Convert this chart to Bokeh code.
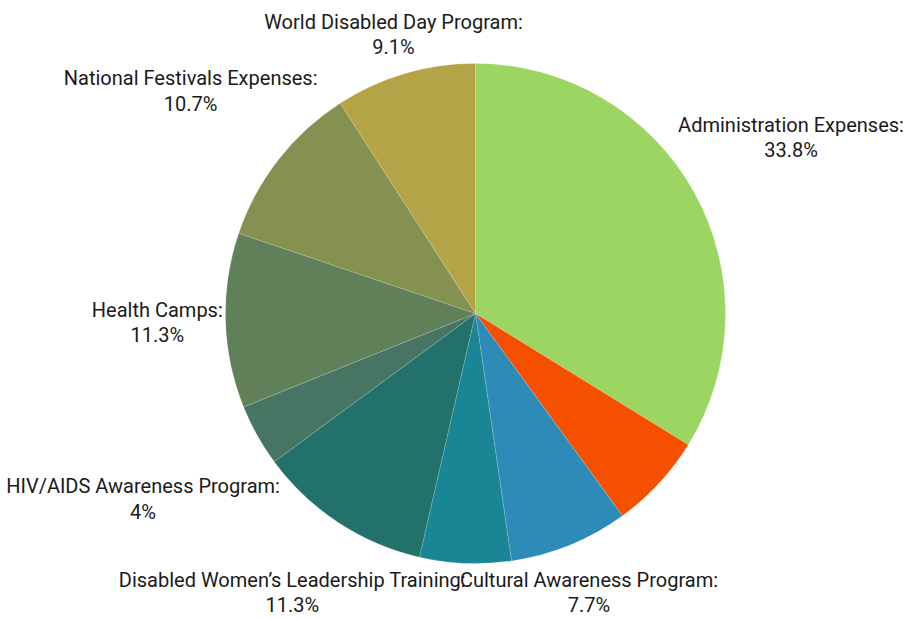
import math
from bokeh.plotting import figure
from bokeh.models import ColumnDataSource, Range1d
from bokeh.core.properties import value
from bokeh.embed import file_html
from bokeh.resources import INLINE

# ---- data ----
categories = ["Administration Expenses", "Other Expenses A", "Cultural Awareness Program",
              "Other Expenses B", "Disabled Women\u2019s Leadership Training",
              "HIV/AIDS Awareness Program", "Health Camps",
              "National Festivals Expenses", "World Disabled Day Program"]
values = [33.8, 6.2, 7.7, 5.9, 11.3, 4.0, 11.3, 10.7, 9.1]
show_label = [True, False, True, False, True, True, True, True, True]
colors = ["#9dd563", "#f54f00", "#2e8bb8", "#1a8594", "#23716b",
          "#467563", "#5f8058", "#849150", "#b5a348"]

# ---- layout ----
W, H = 908, 619
cx, cy = 475.0, H - 313.0
R = 250.0
FONT_PX = 20
LINE_H = 1.06

# Roboto advance widths (units/2048), approximate
ADV = {
    'A': 1336, 'C': 1305, 'D': 1310, 'E': 1141, 'F': 1119, 'H': 1427, 'I': 561,
    'L': 1103, 'M': 1749, 'N': 1427, 'P': 1292, 'R': 1257, 'S': 1216, 'T': 1224,
    'V': 1304, 'W': 1800,
    'a': 1087, 'b': 1120, 'c': 1045, 'd': 1126, 'e': 1058, 'f': 693, 'g': 1120,
    'h': 1100, 'i': 497, 'j': 489, 'k': 1014, 'l': 497, 'm': 1751, 'n': 1104,
    'o': 1140, 'p': 1120, 'q': 1120, 'r': 693, 's': 1056, 't': 669, 'u': 1101,
    'v': 968, 'w': 1506, 'x': 990, 'y': 945, 'z': 990,
    '.': 527, '%': 1465, ':': 484, ' ': 507, '/': 824, '\u2019': 400,
}


def text_width(s):
    return sum(ADV.get(ch, 1150 if ch.isdigit() else 1120) for ch in s) / 2048.0 * FONT_PX


total = sum(values)
starts, ends, lx, ly, ltext = [], [], [], [], []
acc = 0.0
for cat, v, show in zip(categories, values, show_label):
    t0 = acc / total * 2 * math.pi
    acc += v
    t1 = acc / total * 2 * math.pi
    starts.append(math.pi / 2 - t0)
    ends.append(math.pi / 2 - t1)
    if show:
        line1 = cat + ":"
        line2 = f"{v:g}%"
        hw = max(text_width(line1), text_width(line2)) / 2.0
        hh = 25.0
        mid = (t0 + t1) / 2.0
        ux, uy = math.sin(mid), math.cos(mid)
        target = R + 4.0
        lo, hi = 0.0, 1000.0
        for _ in range(60):
            d = (lo + hi) / 2.0
            nx = max(abs(d * ux) - hw, 0.0)
            ny = max(abs(d * uy) - hh, 0.0)
            if math.hypot(nx, ny) < target:
                lo = d
            else:
                hi = d
        d = (lo + hi) / 2.0
        lx.append(cx + d * ux)
        ly.append(cy + d * uy)
        ltext.append(line1 + "\n" + line2)

src = ColumnDataSource(dict(start=starts, end=ends, color=colors, cat=categories, val=values))
lsrc = ColumnDataSource(dict(x=lx, y=ly, text=ltext))

p = figure(width=W, height=H, output_backend="svg", toolbar_location=None,
           x_range=Range1d(0, W), y_range=Range1d(0, H), min_border=0)
p.outline_line_color = None
p.xaxis.visible = False
p.yaxis.visible = False
p.xgrid.visible = False
p.ygrid.visible = False
p.background_fill_color = "white"

p.wedge(x=cx, y=cy, radius=R, radius_units="screen", start_angle="start", end_angle="end",
        direction="clock", fill_color="color", line_color="white", line_width=0.5,
        line_alpha=0.3, source=src)

p.text(x="x", y="y", text="text", source=lsrc, text_align="center", text_baseline="middle",
       text_font=value("Roboto"), text_font_size=f"{FONT_PX}px", text_color="#1a1a1a",
       text_line_height=LINE_H)

open("out.html", "w").write(file_html(p, INLINE))
